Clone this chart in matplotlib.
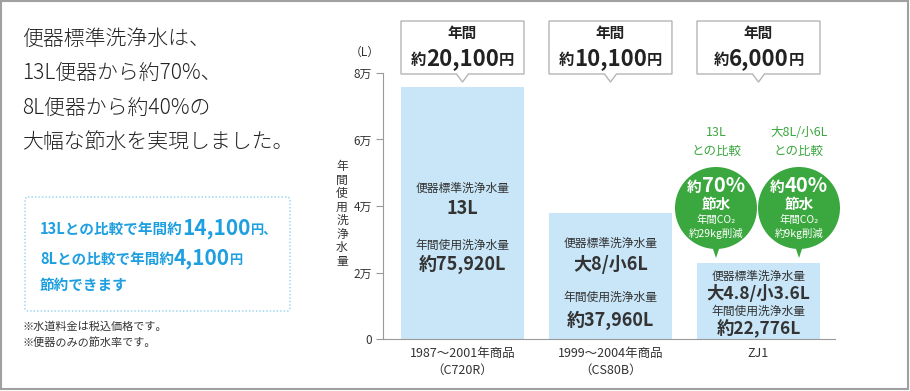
import matplotlib
matplotlib.use('Agg')
import matplotlib.pyplot as plt
from matplotlib.patches import Polygon, Circle, Rectangle, FancyBboxPatch
from matplotlib.transforms import Affine2D

plt.rcParams['font.family'] = ['Noto Sans CJK JP', 'DejaVu Sans']

W, H = 910, 391

# data
categories = ['1987〜2001年商品\n（C720R）', '1999〜2004年商品\n（CS80B）', 'ZJ1']
annual_water = [75920, 37960, 22776]
annual_cost = ['20,100', '10,100', '6,000']
flush_volume = ['13L', '大8/小6L', '大4.8/小3.6L']
water_text = ['約75,920L', '約37,960L', '約22,776L']
compare_with = ['13L', '大8L/小6L']
saving_rate = ['70%', '40%']
co2_cut = ['約29kg削減', '約9kg削減']
yticks = [0, 20000, 40000, 60000, 80000]
ytick_labels = ['0', '2万', '4万', '6万', '8万']
headline = ['便器標準洗浄水は、', '13L便器から約70%、', '8L便器から約40%の', '大幅な節水を実現しました。']
notes = ['※水道料金は税込価格です。', '※便器のみの節水率です。']

DARK = '#333333'
BLUE = '#1E9FE0'
GREEN = '#3BA73F'
BAR = '#C8E6F8'

fig = plt.figure(figsize=(W / 100, H / 100), dpi=100)
PX = Affine2D().scale(1, -1).translate(0, H)   # image pixel coords, y down
renderer = fig.canvas.get_renderer()

fig.add_artist(Rectangle((1, 1), W - 3, H - 3, transform=PX, fill=False,
                         edgecolor='#a0a0a0', lw=1.5))

ax = fig.add_axes([383 / W, 1 - 339 / H, (835 - 383) / W, (339 - 73) / H])
xs = range(len(annual_water))
ax.bar(xs, annual_water, width=0.831, color=BAR)
ax.set_xlim(-0.537, 2.517)
ax.set_ylim(0, 80000)
ax.set_yticks(yticks, ytick_labels)
ax.set_xticks(list(xs), categories)
for s in ['top', 'right']:
    ax.spines[s].set_visible(False)
for s in ['left', 'bottom']:
    ax.spines[s].set_color('#9a9a9a')
ax.tick_params(axis='y', length=5, color='#9a9a9a', labelsize=8.5, labelcolor=DARK, pad=3)
ax.tick_params(axis='x', length=0, labelsize=9, labelcolor=DARK, pad=6)
for lab in ax.get_xticklabels():
    lab.set_linespacing(1.3)


def text(x, y, s, size, weight='normal', color=DARK, ha='center', va='center', **kw):
    return fig.text(x, y, s, transform=PX, fontsize=size, fontweight=weight,
                    color=color, ha=ha, va=va, **kw)


def runs(x, y, parts, color=DARK, ha='center'):
    items = [fig.text(0, 0, s, transform=PX, fontsize=fs, fontweight=fw, color=color,
                      ha='left', va='baseline') for s, fs, fw in parts]
    widths = [t.get_window_extent(renderer).width for t in items]
    start = x - sum(widths) / 2 if ha == 'center' else x
    for t, w in zip(items, widths):
        t.set_position((start, y))
        start += w


def bar_px(i):
    left = ax.transData.transform((i - 0.4155, 0))[0]
    right = ax.transData.transform((i + 0.4155, 0))[0]
    return left, right, (left + right) / 2


text(365, 52, '（L）', 8.5)
text(342, 214, '\n'.join('年間使用洗浄水量'), 8.5, linespacing=1.05)

# callouts with annual cost
for i, cost in enumerate(annual_cost):
    l, r, c = bar_px(i)
    top, bot = 21, 74
    box = Polygon([(l, top), (r, top), (r, bot), (c + 6, bot), (c, bot + 8),
                   (c - 6, bot), (l, bot)], closed=True, transform=PX,
                  facecolor='white', edgecolor='#b5b5b5', lw=1)
    fig.add_artist(box)
    text(c, 33, '年間', 10.5, 'bold', color='#222222')
    runs(c, 65, [('約', 11, 'bold'), (cost, 16, 'bold'), ('円', 11, 'bold')], color='#222222')

# bar annotations
l, r, c = bar_px(0)
text(c, 188, '便器標準洗浄水量', 8.5)
text(c, 209, flush_volume[0], 13, 'bold')
text(c, 245, '年間使用洗浄水量', 8.5)
text(c, 264, water_text[0], 13, 'bold')

l, r, c = bar_px(1)
text(c, 243, '便器標準洗浄水量', 8.5)
text(c, 265, flush_volume[1], 13, 'bold')
text(c, 297, '年間使用洗浄水量', 8.5)
text(c, 320, water_text[1], 13, 'bold')

l, r, c = bar_px(2)
text(c, 276, '便器標準洗浄水量', 8.5)
text(c, 294, flush_volume[2], 12.5, 'bold')
text(c, 311, '年間使用洗浄水量', 8.5)
text(c, 329, water_text[2], 12.5, 'bold')

# green saving badges
for cx, comp, rate, co2 in zip([716, 799], compare_with, saving_rate, co2_cut):
    cy, rad = 208, 41
    fig.add_artist(Circle((cx, cy), rad, transform=PX, color=GREEN, lw=0))
    fig.add_artist(Polygon([(cx - 4, cy + rad - 3), (cx + 4, cy + rad - 3), (cx, cy + rad + 9)],
                           transform=PX, color=GREEN, lw=0))
    text(cx, 133, comp, 9, color=GREEN)
    text(cx, 151, 'との比較', 9, color=GREEN)
    runs(cx, 192, [('約', 10.5, 'bold'), (rate, 14.5, 'bold')], color='white')
    text(cx, 204, '節水', 10.5, 'bold', color='white')
    text(cx, 220, '年間CO₂', 7.5, color='white')
    text(cx, 233, co2, 7.5, color='white')

# left side texts
for k, line in enumerate(headline):
    text(22, 39 + k * 34.2, line, 15, 'light', ha='left', color='#222222')

fig.add_artist(FancyBboxPatch((25, 197), 265, 114, transform=PX,
                              boxstyle='round,pad=0,rounding_size=3', fill=False,
                              edgecolor='#8fd0f0', lw=1, linestyle=(0, (1, 1.5))))
runs(40, 234, [('13Lとの比較で年間約', 10.5, 'bold'), ('14,100', 15, 'bold'), ('円、', 9.5, 'bold')],
     color=BLUE, ha='left')
runs(40, 264, [('8Lとの比較で年間約', 10.5, 'bold'), ('4,100', 15, 'bold'), ('円', 9.5, 'bold')],
     color=BLUE, ha='left')
text(40, 285, '節約できます', 10.5, 'bold', color=BLUE, ha='left')

for k, note in enumerate(notes):
    text(23, 327 + k * 16, note, 8, ha='left')

fig.savefig('out.png', dpi=100)
